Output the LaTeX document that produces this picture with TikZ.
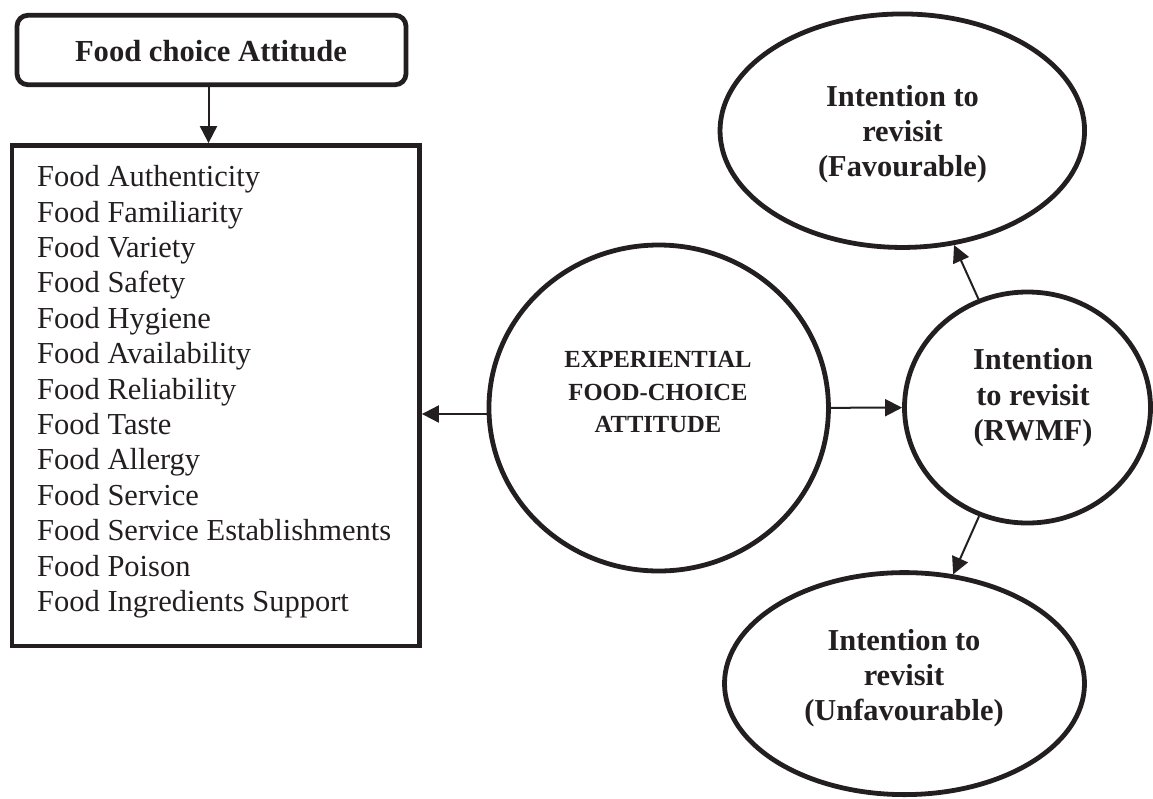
\documentclass[tikz,border=0pt]{standalone}
\usepackage{fontspec}
\setmainfont{Liberation Serif}
\usetikzlibrary{shapes.geometric,arrows.meta}
\definecolor{ink}{RGB}{35,31,32}
\begin{document}
\begin{tikzpicture}[x=1pt,y=-1pt,
  thick line/.style={draw=ink, line width=4.8pt, inner sep=0pt},
  topbox/.style={thick line, rectangle, rounded corners=11pt},
  listbox/.style={thick line, rectangle},
  bubble/.style={thick line, ellipse},
  arr/.style={draw=ink, line width=2pt, -{Triangle[length=17pt,width=17pt]}},
  item/.style={anchor=base west, inner sep=0pt, text=ink, font=\fontsize{30.5}{35}\selectfont},
  boldline/.style={anchor=base, inner sep=0pt, text=ink, font=\fontsize{30.4}{35}\selectfont\bfseries},
  smallbold/.style={anchor=base, inner sep=0pt, text=ink, font=\fontsize{24.6}{30}\selectfont\bfseries}
]
\useasboundingbox (0,0) rectangle (1153,798);

% left column
\node[topbox, minimum width=389pt, minimum height=69.5pt] (fca) at (211.5,50) {};
\node[boldline, font=\fontsize{30.6}{35}\selectfont\bfseries] (fcatext) at (211,61.7) {Food choice Attitude};
\node[listbox, minimum width=407.5pt, minimum height=500.5pt] (list) at (215.75,395.75) {};
\foreach \t [count=\i] in {Food Authenticity, Food Familiarity, Food Variety, Food Safety, Food Hygiene, Food Availability, Food Reliability, Food Taste, Food Allergy, Food Service, Food Service Establishments, Food Poison, Food Ingredients Support}
  \node[item] (item\i) at (37,{186.7+35.4*(\i-1)}) {\t};

% central circle
\node[bubble, minimum width=339.5pt, minimum height=326pt] (exp) at (658.7,408) {};
\node[smallbold] (exp1) at (658,367.3) {EXPERIENTIAL};
\node[smallbold] (exp2) at (658,400) {FOOD-CHOICE};
\node[smallbold] (exp3) at (658,432.7) {ATTITUDE};

% RWMF circle
\node[bubble, minimum width=246pt, minimum height=231pt] (rw) at (1027.5,407.5) {};
\node[boldline] (rw1) at (1033,369.3) {Intention};
\node[boldline] (rw2) at (1033,405) {to revisit};
\node[boldline] (rw3) at (1033,440.7) {(RWMF)};

% favourable
\node[bubble, minimum width=364.5pt, minimum height=233.5pt] (fav) at (902.3,130.7) {};
\node[boldline] (fav1) at (902.5,106) {Intention to};
\node[boldline] (fav2) at (902.5,141.3) {revisit};
\node[boldline] (fav3) at (902.5,176.7) {(Favourable)};

% unfavourable
\node[bubble, minimum width=360pt, minimum height=222pt] (unf) at (904.5,683.6) {};
\node[boldline] (unf1) at (904,650) {Intention to};
\node[boldline] (unf2) at (904,685) {revisit};
\node[boldline] (unf3) at (904,720) {(Unfavourable)};

% connectors
\draw[arr] ([xshift=-3pt]fca.south) -- ([xshift=-3pt]fca.south |- list.north);
\draw[arr] (exp.182) -- (exp.182 -| list.east);
\draw[arr] (exp) -- (rw);
\draw[arr] (rw) -- (fav);
\draw[arr] (rw) -- (unf);
\end{tikzpicture}
\end{document}
